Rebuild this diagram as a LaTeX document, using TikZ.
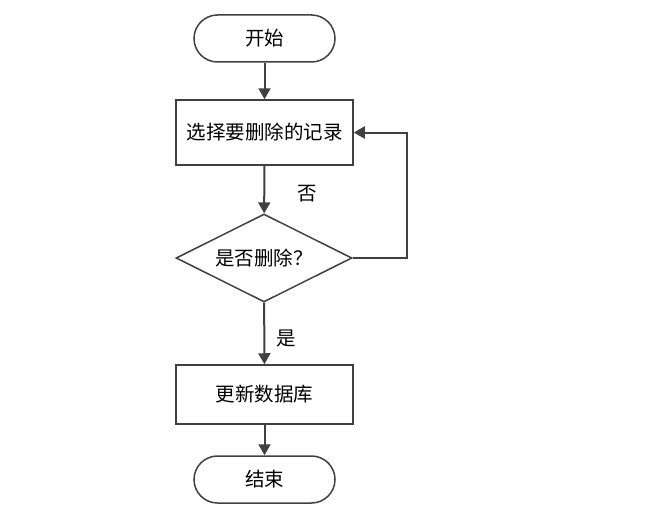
\documentclass[tikz,border=0pt]{standalone}
\usepackage{fontspec}
\newfontfamily\cjk{Noto Sans CJK SC}
\usetikzlibrary{arrows.meta,shapes.geometric}
\definecolor{linegray}{HTML}{404040}
\tikzset{
  terminal/.style={draw=linegray, line width=1.5pt, rounded corners=23.5pt, minimum width=141pt, minimum height=47pt, inner sep=0pt},
  process/.style={draw=linegray, line width=1.5pt, minimum width=177pt, inner sep=0pt},
  decision/.style={draw=linegray, line width=1.5pt, diamond, aspect=2, minimum width=176pt, minimum height=88pt, inner sep=0pt},
  flow/.style={draw=linegray, line width=2pt, -{Triangle[length=11pt,width=12pt]}}
}
\begin{document}
\begin{tikzpicture}[x=1pt,y=-1pt, font=\cjk\fontsize{19.5}{22}\selectfont]
\useasboundingbox (0,0) rectangle (650,511);
\node [terminal] (start) at (264.5,38.5) {开始};
\node [process, minimum height=65pt] (select) at (264.5,132.5) {选择要删除的记录};
\node [decision] (ask) at (264,258) {是否删除？};
\node [process, minimum height=59pt] (update) at (264.5,394.5) {更新数据库};
\node [terminal] (stop) at (264.5,479.5) {结束};
\coordinate (loop) at (407,258);
\draw [flow] (start) -- (select);
\draw [flow] (select) -- (ask);
\draw (307,194) node (no) {否};
\draw [flow] (ask.east) -- (loop) |- (select.east);
\draw [flow] (ask) -- (update);
\draw (286,338) node (yes) {是};
\draw [flow] (update) -- (stop);
\end{tikzpicture}
\end{document}
